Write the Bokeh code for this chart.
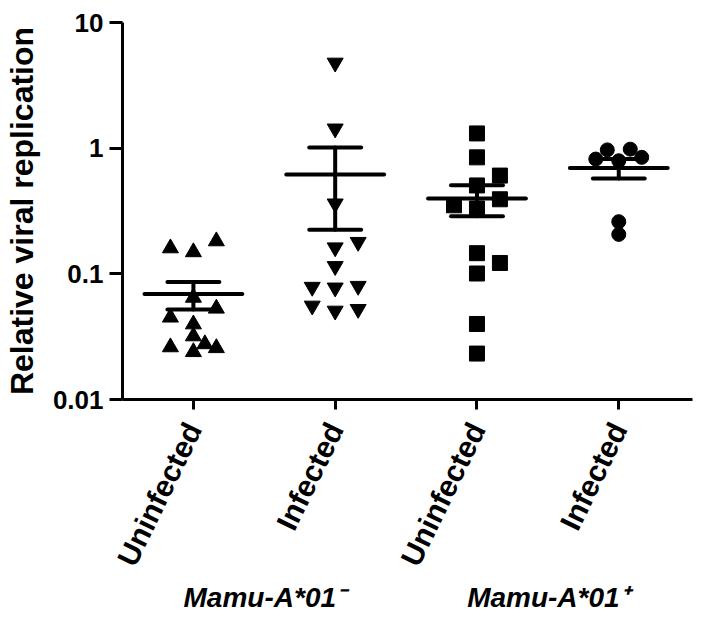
import math
import numpy as np
from bokeh.plotting import figure
from bokeh.models import Range1d, FixedTicker, CustomJSTickFormatter, LinearAxis, ColumnDataSource
from bokeh.embed import file_html
from bokeh.resources import INLINE

# ---------------- data ----------------
categories = ["Uninfected", "Infected", "Uninfected", "Infected"]
group_labels = ["Mamu-A*01\u207b", "Mamu-A*01\u207a"]
y_ticks = [0.01, 0.1, 1, 10]

neg_uninfected = [0.149, 0.182, 0.160, 0.0647, 0.0397, 0.053, 0.045,
                  0.0239, 0.0257, 0.0261, 0.0276, 0.0319]
neg_infected = [4.78, 1.43, 0.362, 0.162, 0.179, 0.115, 0.0776, 0.080,
                0.0786, 0.0508, 0.0524, 0.0557]
pos_uninfected = [1.31, 0.845, 0.505, 0.605, 0.331, 0.392, 0.351, 0.1006,
                  0.122, 0.146, 0.0399, 0.0232]
pos_infected = [0.794, 0.845, 0.819, 0.982, 0.969, 0.206, 0.260]

series = [neg_uninfected, neg_infected, pos_uninfected, pos_infected]
markers = ["triangle", "inverted_triangle", "square", "circle"]
marker_sizes = [16, 16, 15, 14]

# ---------------- layout ----------------
W, H = 696, 615
BL, BR, BT, BB = 121, 4, 22, 212
x_start, x_end = 0.5, 4.52
y_start, y_end = y_ticks[0], y_ticks[-1]
frame_w = W - BL - BR
frame_h = H - BT - BB
px_unit = frame_w / (x_end - x_start)
px_decade = frame_h / (math.log10(y_end) - math.log10(y_start))

FONT = "Liberation Sans"


def swarm(values, step_px=11.5, min_dist=12.0):
    order = [0, 2, -2, 1, -1, 4, -4, 3, -3, 6, -6, 5, -5]
    placed, offs = [], []
    for v in values:
        yp = math.log10(v) * px_decade
        for k in order:
            xp = k * step_px
            if all(math.hypot(xp - qx, yp - qy) >= min_dist for qx, qy in placed):
                break
        placed.append((xp, yp))
        offs.append(xp / px_unit)
    return offs


p = figure(width=W, height=H, output_backend="svg", toolbar_location=None,
           y_axis_type="log",
           x_range=Range1d(x_start, x_end), y_range=Range1d(y_start, y_end),
           min_border_left=BL, min_border_right=BR,
           min_border_top=BT, min_border_bottom=BB)
p.outline_line_color = None
p.xgrid.grid_line_color = None
p.ygrid.grid_line_color = None
p.background_fill_color = "white"
p.border_fill_color = "white"

mean_half = 49 / px_unit
cap_half = 26 / px_unit

for i, (vals, mk, ms) in enumerate(zip(series, markers, marker_sizes)):
    gx = i + 1
    arr = np.array(vals, dtype=float)
    m = arr.mean()
    sem = arr.std(ddof=1) / math.sqrt(len(arr))
    offs = swarm(vals)
    src = ColumnDataSource(dict(x=[gx + o for o in offs], y=vals))
    p.segment(x0=[gx - mean_half], y0=[m], x1=[gx + mean_half], y1=[m],
              line_color="black", line_width=4, line_cap="round")
    p.segment(x0=[gx, gx - cap_half, gx - cap_half],
              y0=[m - sem, m + sem, m - sem],
              x1=[gx, gx + cap_half, gx + cap_half],
              y1=[m + sem, m + sem, m - sem],
              line_color="black", line_width=4, line_cap="round")
    p.scatter(x="x", y="y", source=src, marker=mk, size=ms,
              fill_color="black", line_color="black", line_width=1)

# y axis
ya = p.yaxis[0]
ya.ticker = FixedTicker(ticks=y_ticks)
ya.formatter = CustomJSTickFormatter(code="return tick.toString();")
ya.axis_label = "Relative viral replication"
ya.axis_label_text_font = FONT
ya.axis_label_text_font_style = "bold"
ya.axis_label_text_font_size = "32px"
ya.axis_label_text_color = "black"
ya.axis_label_standoff = 10
ya.major_label_text_font = FONT
ya.major_label_text_font_style = "bold"
ya.major_label_text_font_size = "26px"
ya.major_label_text_color = "black"
ya.major_label_standoff = 6
ya.axis_line_width = 3
ya.major_tick_line_width = 3
ya.major_tick_out = 13
ya.major_tick_in = 0
ya.minor_tick_line_color = None

# x axis
xa = p.xaxis[0]
xa.ticker = FixedTicker(ticks=[1, 2, 3, 4])
xa.major_label_overrides = {i + 1: c for i, c in enumerate(categories)}
xa.major_label_orientation = math.radians(64)
xa.major_label_text_font = FONT
xa.major_label_text_font_style = "bold"
xa.major_label_text_font_size = "30px"
xa.major_label_text_color = "black"
xa.major_label_standoff = 15
xa.axis_line_width = 3
xa.major_tick_line_width = 3
xa.major_tick_out = 10
xa.major_tick_in = 0
xa.minor_tick_line_color = None

# group labels on a second, line-less axis below the category labels
group_pos = [(1 + 2) / 2, (3 + 4) / 2]
ga = LinearAxis(ticker=FixedTicker(ticks=group_pos),
                major_label_overrides={gp: t for gp, t in zip(group_pos, group_labels)},
                axis_line_color=None, major_tick_line_color=None,
                minor_tick_line_color=None, major_tick_out=0, major_tick_in=0,
                major_label_standoff=0,
                major_label_text_font=FONT, major_label_text_font_style="bold italic",
                major_label_text_font_size="28px", major_label_text_color="black")
p.add_layout(ga, "below")

open("out.html", "w").write(file_html(p, INLINE))
